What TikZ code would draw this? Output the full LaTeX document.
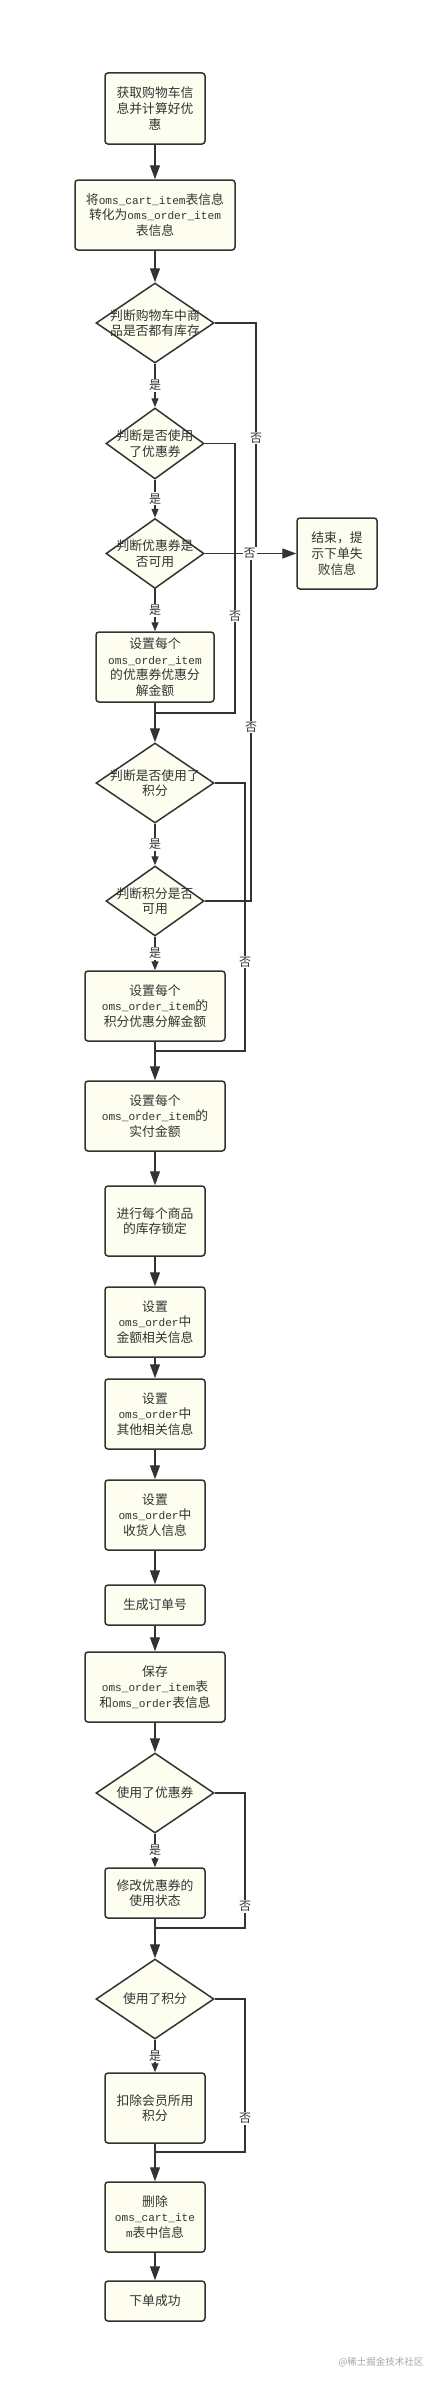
\documentclass[tikz,border=0pt]{standalone}
\usepackage{fontspec}
\setmainfont{Noto Sans CJK SC}
\newfontfamily\monofont{Liberation Mono}[Scale=0.87]
\usepackage{tikz}
\usetikzlibrary{shapes.geometric}
\usetikzlibrary{arrows.meta}
\usetikzlibrary{calc}
\definecolor{boxfill}{HTML}{FDFDF0}
\definecolor{linegray}{HTML}{333333}
\newcommand{\om}[1]{{\monofont #1}}
\tikzstyle{stepbox}=[rectangle,rounded corners=3pt,draw=linegray,fill=boxfill,line width=1.5pt,inner sep=0pt,align=center,text=linegray,font=\fontsize{12.8}{15.7}\selectfont]
\tikzstyle{decision}=[diamond,draw=linegray,fill=boxfill,line width=1.5pt,inner sep=0pt]
\tikzstyle{decisiontext}=[align=center,text=linegray,font=\fontsize{12.8}{15.7}\selectfont]
\tikzstyle{edge} = [draw,line width=1.4pt,linegray,-{Triangle[length=14pt,width=10pt]}]
\tikzstyle{yesedge} = [draw,line width=1.4pt,linegray,-{Triangle[length=9pt,width=7pt]}]
\tikzstyle{noline} = [draw,line width=1.4pt,linegray]
\tikzstyle{weight} = [fill=white,inner sep=1pt,text=linegray,font=\fontsize{12}{14}\selectfont]

\begin{document}
\begin{tikzpicture}[x=1pt,y=-1pt]

    \path[fill=white] (0,0) rectangle (438,2382);
    \useasboundingbox (0,0) rectangle (438,2382);

    % First we draw the boxes
    \foreach \pos/\name/\wid/\hei/\txt in {
        {(155,108.5)/start/100/71/{获取购物车信\\息并计算好优\\惠}},
        {(155,215)/conv/160/70/{将\om{oms\_cart\_item}表信息\\转化为\om{oms\_order\_item}\\表信息}},
        {(337,553.5)/fail/80/71/{结束，提\\示下单失\\败信息}},
        {(155,667)/cpn/118/70/{设置每个\\\om{oms\_order\_item}\\的优惠券优惠分\\解金额}},
        {(155,1006)/pts/140/70/{设置每个\\\om{oms\_order\_item}的\\积分优惠分解金额}},
        {(155,1116)/pay/140/70/{设置每个\\\om{oms\_order\_item}的\\实付金额}},
        {(155,1221)/lock/100/70/{进行每个商品\\的库存锁定}},
        {(155,1322)/amt/100/70/{设置\\\om{oms\_order}中\\金额相关信息}},
        {(155,1414)/other/100/70/{设置\\\om{oms\_order}中\\其他相关信息}},
        {(155,1515)/recv/100/70/{设置\\\om{oms\_order}中\\收货人信息}},
        {(155,1605)/ordno/100/40/{生成订单号}},
        {(155,1687)/save/140/70/{保存\\\om{oms\_order\_item}表\\和\om{oms\_order}表信息}},
        {(155,1893)/modify/100/50/{修改优惠券的\\使用状态}},
        {(155,2108)/deduct/100/70/{扣除会员所用\\积分}},
        {(155,2217)/delete/100/70/{删除\\\om{oms\_cart\_ite}\\\om{m}表中信息}},
        {(155,2301)/success/100/40/{下单成功}}}
        \node[stepbox,minimum width=\wid,minimum height=\hei] (\name) at \pos {\txt};

    % Then the decisions
    \foreach \pos/\name/\wid/\hei/\txt in {
        {(155,323)/d1/118/80/{判断购物车中商\\品是否都有库存}},
        {(155,443.5)/d2/98/71/{判断是否使用\\了优惠券}},
        {(155,553.5)/d3/98/70/{判断优惠券是\\否可用}},
        {(155,783)/d4/118/80/{判断是否使用了\\积分}},
        {(155,901)/d5/98/70/{判断积分是否\\可用}},
        {(155,1793)/d6/118/80/{使用了优惠券}},
        {(155,1999)/d7/118/80/{使用了积分}}}
        \node[decision,minimum width=\wid,minimum height=\hei,label={[decisiontext]center:\txt}] (\name) at \pos {};

    % Corners of the "no" lines
    \coordinate (c1) at (256,553.5);
    \coordinate (c2) at (235,713);
    \coordinate (m2) at (155,713);
    \coordinate (c4) at (245,1051);
    \coordinate (m4) at (155,1051);
    \coordinate (c5) at (251,553.5);
    \coordinate (c6) at (245,1928);
    \coordinate (m6) at (155,1928);
    \coordinate (c7) at (245,2152);
    \coordinate (m7) at (155,2152);

    % Straight arrows
    \foreach \source/ \dest in {start/conv, conv/d1, cpn/d4, pts/pay, pay/lock, lock/amt, amt/other, other/recv, recv/ordno, ordno/save, save/d6, modify/d7, deduct/delete, delete/success}
        \path[edge] (\source) -- (\dest);

    % Yes arrows
    \foreach \source/ \dest in {d1/d2, d2/d3, d3/cpn, d4/d5, d5/pts, d6/modify, d7/deduct}
        \path[yesedge] (\source) -- node[weight] {是} (\dest);

    % No lines
    \path[noline] (d1.east) -| node[weight,pos=0.75] {否} (c1);
    \path[noline] (d2.east) -| node[weight,pos=0.82] {否} (c2) -- (m2);
    \path[noline] (d4.east) -| node[weight,pos=0.834] {否} (c4) -- (m4);
    \path[noline] (d5.east) -| node[weight,pos=0.75] {否} (c5);
    \path[noline] (d6.east) -| node[weight,pos=0.92] {否} (c6) -- (m6);
    \path[noline] (d7.east) -| node[weight,pos=0.89] {否} (c7) -- (m7);
    \path[edge] (d3.east) -- node[weight,pos=0.49] {否} (fail.west);

    \node[text=black!35,font=\fontsize{9.5}{11}\selectfont] (mark) at (381,2362) {@稀土掘金技术社区};

\end{tikzpicture}
\end{document}
